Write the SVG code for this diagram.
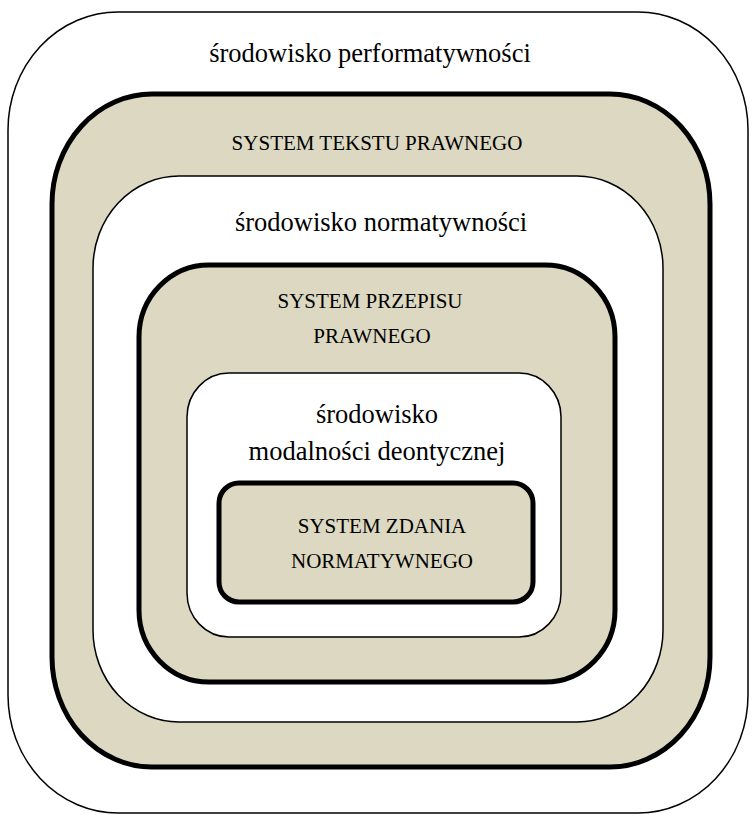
<svg xmlns="http://www.w3.org/2000/svg" width="752" height="815" viewBox="0 0 752 815">
  <style>
    .env { fill: #ffffff; stroke: #000000; stroke-width: 1.5; }
    .sys { fill: #dcd8c2; stroke: #000000; stroke-width: 5; }
    .lbl { font-family: "Liberation Serif", "Times New Roman", serif; fill: #000000; text-anchor: middle; }
    .big { font-size: 26.5px; }
    .caps { font-size: 21px; }
  </style>
  <rect width="752" height="815" fill="#ffffff"/>

  <!-- nested environments (white) and systems (shaded), outermost first -->
  <g id="performatywnosc">
    <rect class="env" x="8" y="12" width="740" height="801" rx="110" ry="118" stroke-width="2"/>
    <text class="lbl big" x="370" y="62">środowisko performatywności</text>
  </g>

  <g id="tekst-prawny">
    <rect class="sys" x="52" y="94" width="658" height="673" rx="100" ry="110"/>
    <text class="lbl caps" x="377" y="150">SYSTEM TEKSTU PRAWNEGO</text>
  </g>

  <g id="normatywnosc">
    <rect class="env" x="93" y="176" width="570" height="546" rx="86" ry="92"/>
    <text class="lbl big" x="381" y="231">środowisko normatywności</text>
  </g>

  <g id="przepis-prawny">
    <rect class="sys" x="139" y="265" width="476" height="417" rx="70" ry="72"/>
    <text class="lbl caps" x="370" y="308">SYSTEM PRZEPISU</text>
    <text class="lbl caps" x="372" y="343">PRAWNEGO</text>
  </g>

  <g id="modalnosc-deontyczna">
    <rect class="env" x="187" y="373" width="374" height="264" rx="42" ry="44"/>
    <text class="lbl big" x="377" y="423">środowisko</text>
    <text class="lbl big" x="377" y="460">modalności deontycznej</text>
  </g>

  <g id="zdanie-normatywne">
    <rect class="sys" x="219" y="483" width="314" height="119" rx="20" ry="20"/>
    <text class="lbl caps" x="382" y="533">SYSTEM ZDANIA</text>
    <text class="lbl caps" x="382" y="568">NORMATYWNEGO</text>
  </g>

  <g id="connectors"/>
</svg>
